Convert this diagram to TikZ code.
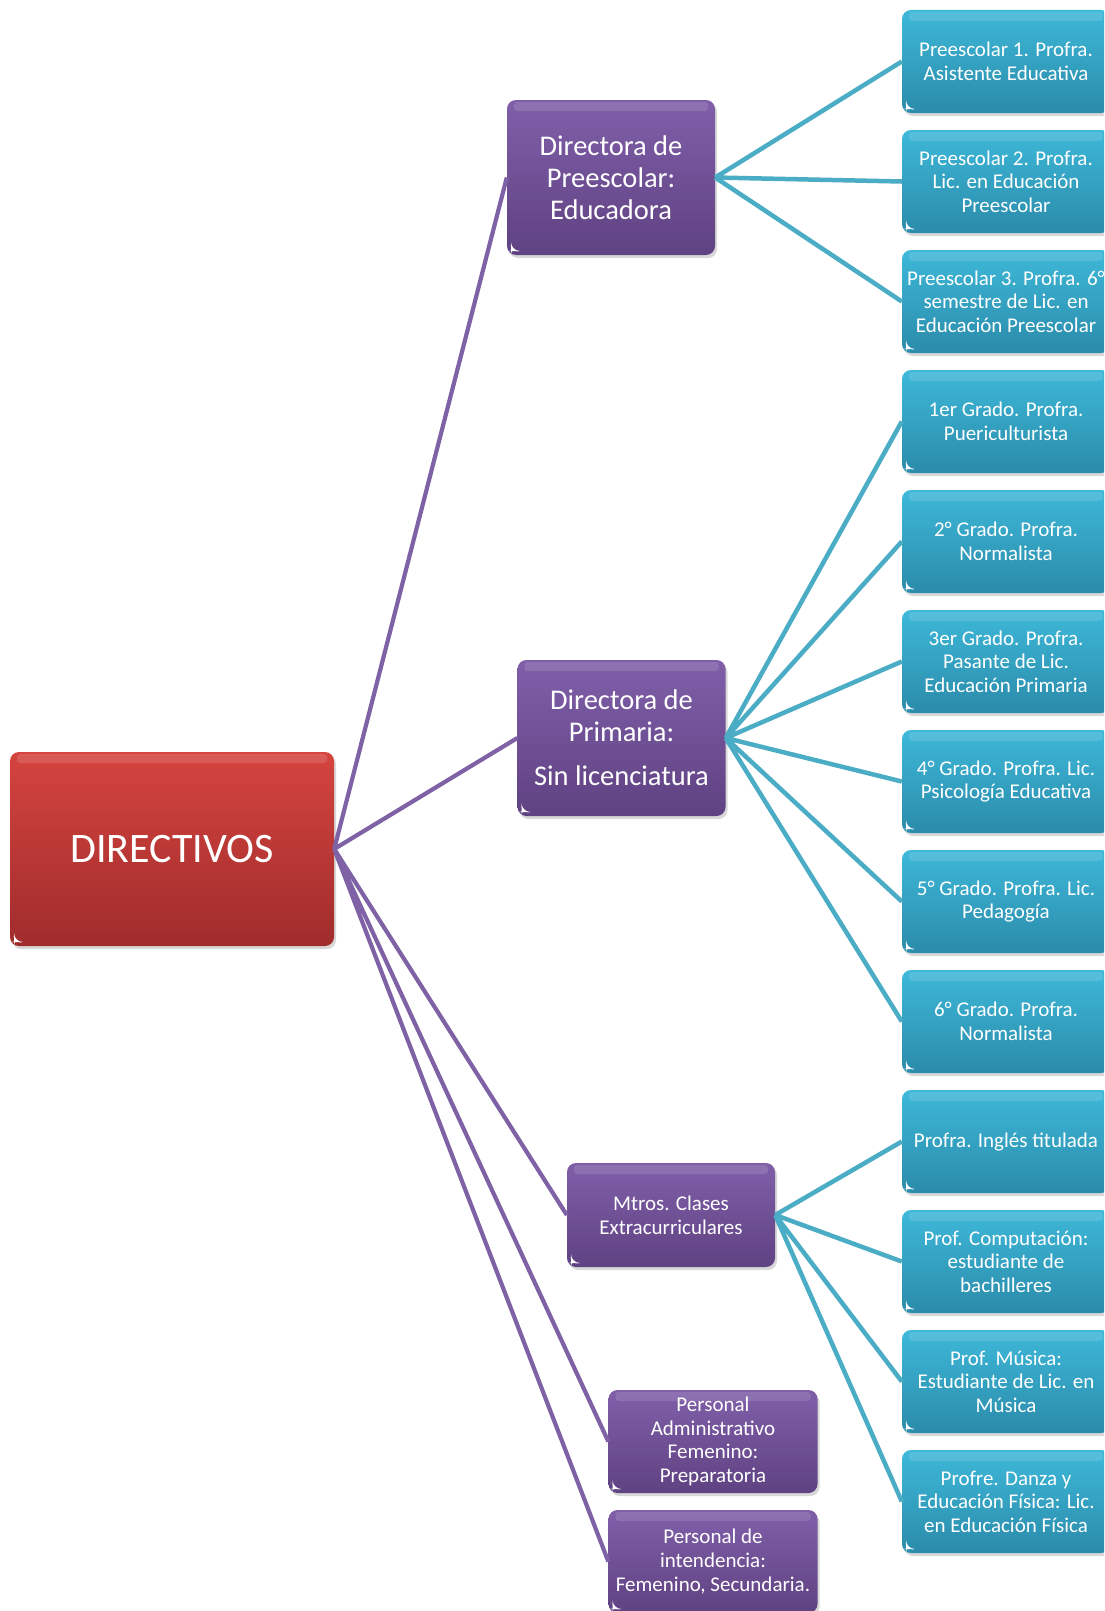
\documentclass[tikz,border=0pt]{standalone}
\usepackage{fontspec}
\setmainfont{Carlito}
\usetikzlibrary{shadows}

\definecolor{rootTop}{HTML}{D5443F}
\definecolor{rootBot}{HTML}{A02C2C}
\definecolor{midTop}{HTML}{805FA9}
\definecolor{midBot}{HTML}{5F4282}
\definecolor{leafTop}{HTML}{3EB8D9}
\definecolor{leafBot}{HTML}{2B8BAA}
\definecolor{linkPurple}{HTML}{7E62A5}
\definecolor{linkCyan}{HTML}{4BACC6}

\tikzset{
  box/.style={
    rounded corners=9pt, align=center, text=white, inner sep=2pt,
    drop shadow={shadow xshift=2pt, shadow yshift=-3pt, opacity=0.3},
    path picture={
      \fill[white, opacity=0.12, rounded corners=3pt]
        ([xshift=7pt,yshift=-2pt]path picture bounding box.north west)
        rectangle ([xshift=-7pt,yshift=-11pt]path picture bounding box.north east);
      \fill[white]
        ([xshift=4pt,yshift=4pt]path picture bounding box.south west)
        -- ++(6pt,0pt) -- ++(-6pt,5pt) -- cycle;
    }
  },
  rootbox/.style={box, top color=rootTop, bottom color=rootBot,
    minimum width=324pt, minimum height=194pt,
    font=\fontsize{42}{50}\selectfont},
  midbox/.style={box, top color=midTop, bottom color=midBot,
    minimum width=208pt, minimum height=155pt,
    font=\fontsize{28.5}{32}\selectfont},
  smallmid/.style={box, top color=midTop, bottom color=midBot,
    minimum width=209pt, minimum height=103pt,
    font=\fontsize{21}{23.6}\selectfont},
  leafbox/.style={box, top color=leafTop, bottom color=leafBot,
    minimum width=208pt, minimum height=103pt,
    font=\fontsize{21}{23.6}\selectfont},
  rootlink/.style={draw=linkPurple, line width=4.2pt},
  leaflink/.style={draw=linkCyan, line width=4.5pt},
}

\begin{document}
\begin{tikzpicture}[x=1pt, y=-1pt]
  \useasboundingbox (0,0) rectangle (1104,1611);
  \clip (0,0) rectangle (1104,1611);
  \fill[white] (0,0) rectangle (1104,1611);

  \def\leafX{1006}

  % root and second level
  \node[rootbox] (dir) at (172,849) {DIRECTIVOS};
  \node[midbox] (preDir) at (611,177.5) {Directora de\\Preescolar:\\Educadora};
  \node[midbox, minimum height=156pt] (priDir) at (621.5,738)
    {Directora de\\Primaria:\\[12pt]Sin licenciatura};
  \node[smallmid, minimum height=104pt, minimum width=208pt] (extra) at (671,1215)
    {Mtros. Clases\\Extracurriculares};
  \node[smallmid] (admin) at (713,1441.5)
    {Personal\\Administrativo\\Femenino:\\Preparatoria};
  \node[smallmid] (inten) at (713,1561.5)
    {Personal de\\intendencia:\\Femenino, Secundaria.};

  % third level
  \node[leafbox] (pre1) at (\leafX,61.5) {Preescolar 1. Profra.\\Asistente Educativa};
  \node[leafbox] (pre2) at (\leafX,181.5) {Preescolar 2. Profra.\\Lic. en Educación\\Preescolar};
  \node[leafbox] (pre3) at (\leafX,301.5) {Preescolar 3. Profra. 6°\\semestre de Lic. en\\Educación Preescolar};
  \node[leafbox] (grado1) at (\leafX,421.5) {1er Grado. Profra.\\Puericulturista};
  \node[leafbox] (grado2) at (\leafX,541.5) {2° Grado. Profra.\\Normalista};
  \node[leafbox] (grado3) at (\leafX,661.5) {3er Grado. Profra.\\Pasante de Lic.\\Educación Primaria};
  \node[leafbox] (grado4) at (\leafX,781.5) {4° Grado. Profra. Lic.\\Psicología Educativa};
  \node[leafbox] (grado5) at (\leafX,901.5) {5° Grado. Profra. Lic.\\Pedagogía};
  \node[leafbox] (grado6) at (\leafX,1021.5) {6° Grado. Profra.\\Normalista};
  \node[leafbox] (ingles) at (\leafX,1141.5) {Profra. Inglés titulada};
  \node[leafbox] (compu) at (\leafX,1261.5) {Prof. Computación:\\estudiante de\\bachilleres};
  \node[leafbox] (musica) at (\leafX,1381.5) {Prof. Música:\\Estudiante de Lic. en\\Música};
  \node[leafbox] (danza) at (\leafX,1501.5) {Profre. Danza y\\Educación Física: Lic.\\en Educación Física};

  % links
  \draw[rootlink]
    (dir.east) -- (preDir.west)
    (dir.east) -- (priDir.west)
    (dir.east) -- (extra.west)
    (dir.east) -- (admin.west)
    (dir.east) -- (inten.west)
  ;
  \draw[leaflink]
    (preDir.east) -- (pre1.west)
    (preDir.east) -- (pre2.west)
    (preDir.east) -- (pre3.west)
    (priDir.east) -- (grado1.west)
    (priDir.east) -- (grado2.west)
    (priDir.east) -- (grado3.west)
    (priDir.east) -- (grado4.west)
    (priDir.east) -- (grado5.west)
    (priDir.east) -- (grado6.west)
    (extra.east) -- (ingles.west)
    (extra.east) -- (compu.west)
    (extra.east) -- (musica.west)
    (extra.east) -- (danza.west)
  ;
\end{tikzpicture}
\end{document}
